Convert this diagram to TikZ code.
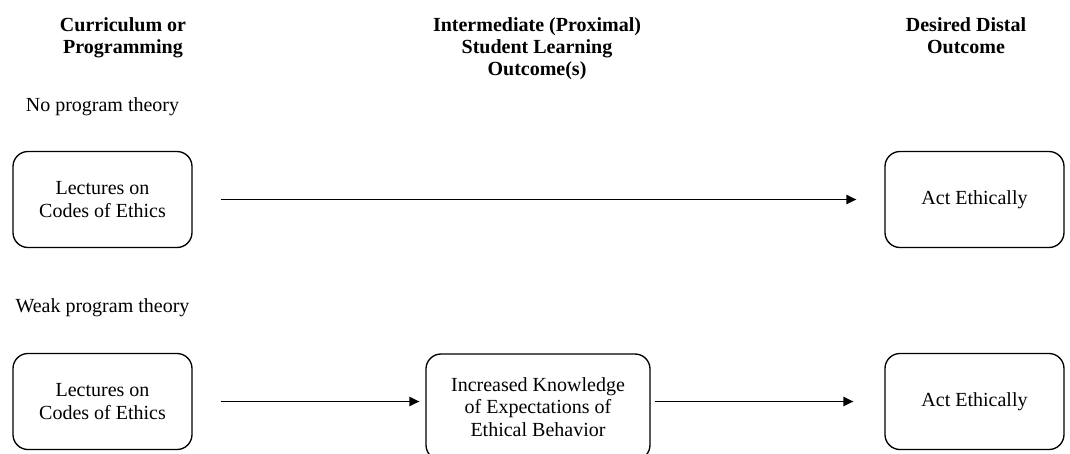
\documentclass[tikz,border=0pt]{standalone}
\usepackage{fontspec}
\setmainfont{Liberation Serif}
\usetikzlibrary{arrows.meta,positioning}

\begin{document}
\begin{tikzpicture}[x=0.6pt,y=-0.6pt,node distance=2cm,on grid,
    font=\fontsize{12}{13.5}\selectfont,
    box/.style={draw,rounded corners=9pt,line width=0.8pt,align=center,
      minimum width=107.4pt,minimum height=57.6pt},
    head/.style={font=\fontsize{12}{13.3}\selectfont\bfseries,align=center,
      anchor=north,inner sep=0pt},
    arr/.style={-{Triangle[length=6pt,width=5.6pt]},line width=0.8pt}]
  \useasboundingbox (0,0) rectangle (1070,453);
  % column headings
  \node[head] (h_cur) at (123,17) {Curriculum or\\Programming};
  \node[head] (h_mid) at (537,17) {Intermediate (Proximal)\\Student Learning\\Outcome(s)};
  \node[head] (h_out) at (966,17) {Desired Distal\\Outcome};
  % no program theory
  \node[box] (lec_1) at (102.5,199.5) {Lectures on\\Codes of Ethics};
  \node[box] (act_1) [right=523.2pt of lec_1] {Act Ethically};
  \node (lbl_1) [above=55.5pt of lec_1] {No program theory};
  % weak program theory
  \node[box] (lec_2) [below=121.2pt of lec_1] {Lectures on\\Codes of Ethics};
  \node[box] (act_2) [right=523.2pt of lec_2] {Act Ethically};
  \node[box,minimum width=134.4pt,minimum height=63.6pt] (know) [right=261.3pt of lec_2,yshift=-3.3pt]
    {Increased Knowledge\\of Expectations of\\Ethical Behavior};
  \node (lbl_2) [above=56pt of lec_2] {Weak program theory};
  \draw[arr,shorten <=16.8pt,shorten >=16.8pt] (lec_1) -- (act_1);
  \draw[arr,shorten <=16.8pt,shorten >=3.6pt] (lec_2) -- (lec_2 -| know.west);
  \draw[arr,shorten <=2.4pt,shorten >=18.6pt] (know.east |- act_2) -- (act_2);
\end{tikzpicture}
\end{document}
